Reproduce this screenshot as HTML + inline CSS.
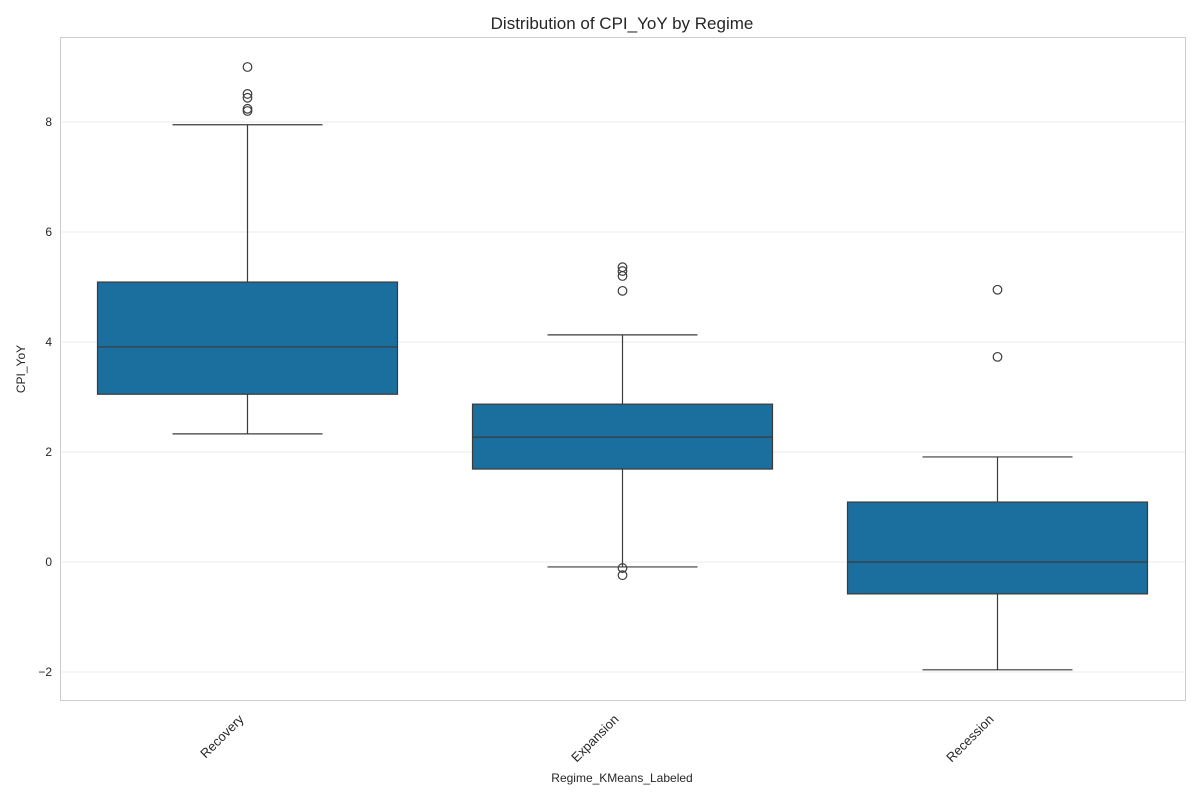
<!DOCTYPE html>
<html><head><meta charset="utf-8"><style>
body{margin:0;background:#fff;font-family:"Liberation Sans",sans-serif}
</style></head><body>
<svg id="chart" width="1200" height="800" xmlns="http://www.w3.org/2000/svg">
<rect x="0" y="0" width="1200" height="800" fill="#fff"/>
<text x="622" y="29" font-size="17" text-anchor="middle" fill="#262626">Distribution of CPI_YoY by Regime</text>
<g id="grid"></g><g id="boxes"></g><g id="axes"></g>
<rect x="60.5" y="37.5" width="1125" height="663" fill="none" stroke="#cccccc" stroke-width="1"/>
<text x="622" y="782" font-size="12" text-anchor="middle" fill="#262626">Regime_KMeans_Labeled</text>
<text transform="translate(25,369) rotate(-90)" font-size="12" text-anchor="middle" fill="#262626">CPI_YoY</text>
</svg>
<script>
const categories=["Recovery","Expansion","Recession"];
const q1=[3.05,1.69,-0.58];
const medians=[3.91,2.27,0.0];
const q3=[5.09,2.87,1.09];
const whiskerLow=[2.33,-0.09,-1.96];
const whiskerHigh=[7.95,4.13,1.91];
const outliers=[[9.0,8.51,8.44,8.24,8.2],[5.36,5.29,5.2,4.93,-0.11,-0.24],[4.95,3.73]];
const yTicks=[-2,0,2,4,6,8];
const NS="http://www.w3.org/2000/svg";
const L=60,R=1185,T=37,B=700;
function y(v){return 562-v*55;}
function x(i){return L+(R-L)/categories.length*(i+0.5);}
function mk(tag,attrs,parent){const e=document.createElementNS(NS,tag);for(const k in attrs)e.setAttribute(k,attrs[k]);parent.appendChild(e);return e;}
const grid=document.getElementById('grid'),boxes=document.getElementById('boxes'),axes=document.getElementById('axes');
yTicks.forEach(t=>{
  const g=mk('line',{x1:L,x2:R,y1:y(t),y2:y(t),stroke:'#ebebeb','stroke-width':1},grid);
  
  
  const tx=mk('text',{x:L-8,y:y(t)+4,'font-size':12,'text-anchor':'end',fill:'#262626'},axes);
  tx.textContent=t<0?'\u2212'+Math.abs(t):String(t);
  
  
});
const bw=(R-L)/categories.length*0.8, cw=bw/2;
categories.forEach((c,i)=>{
  const cx=x(i);
  const g=mk('g',{},boxes);
  
  
  const s={stroke:'#3b3b3b','stroke-width':1.2};
  mk('line',Object.assign({x1:cx,x2:cx,y1:y(q1[i]),y2:y(whiskerLow[i])},s),g);
  mk('line',Object.assign({x1:cx,x2:cx,y1:y(q3[i]),y2:y(whiskerHigh[i])},s),g);
  mk('line',Object.assign({x1:cx-cw/2,x2:cx+cw/2,y1:y(whiskerLow[i]),y2:y(whiskerLow[i])},s),g);
  mk('line',Object.assign({x1:cx-cw/2,x2:cx+cw/2,y1:y(whiskerHigh[i]),y2:y(whiskerHigh[i])},s),g);
  mk('rect',Object.assign({x:cx-bw/2,y:y(q3[i]),width:bw,height:y(q1[i])-y(q3[i]),fill:'#1a6f9f'},s),g);
  mk('line',Object.assign({x1:cx-bw/2,x2:cx+bw/2,y1:y(medians[i]),y2:y(medians[i])},s),g);
  outliers[i].forEach(v=>{
    const o=mk('circle',{cx:cx,cy:y(v),r:4.3,fill:'none',stroke:'#3b3b3b','stroke-width':1.2},g);
    
    
  });
  const tx=mk('text',{transform:`translate(${cx-3},${B+20}) rotate(-45)`,'font-size':13,'text-anchor':'end',fill:'#262626'},axes);
  tx.textContent=c;
  
  
});
</script>
</body></html>
